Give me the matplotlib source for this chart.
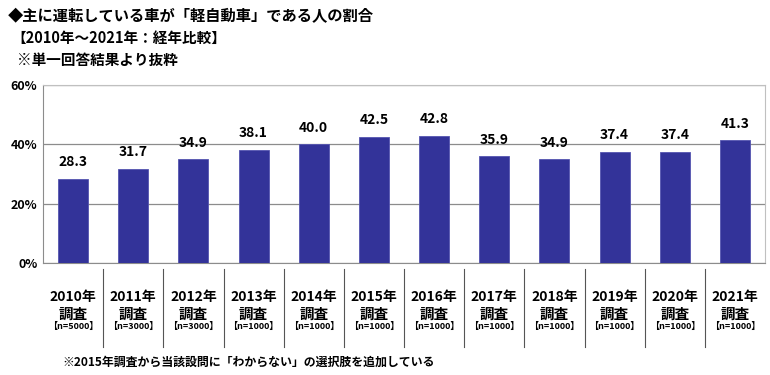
import matplotlib
matplotlib.use("Agg")
from matplotlib import pyplot as plt
import matplotlib.transforms as mtransforms

plt.rcParams['font.family'] = ['Noto Sans CJK JP', 'DejaVu Sans']

years = ["2010年", "2011年", "2012年", "2013年", "2014年", "2015年",
         "2016年", "2017年", "2018年", "2019年", "2020年", "2021年"]
samples = ["【n=5000】", "【n=3000】", "【n=3000】", "【n=1000】", "【n=1000】", "【n=1000】",
           "【n=1000】", "【n=1000】", "【n=1000】", "【n=1000】", "【n=1000】", "【n=1000】"]
values = [28.3, 31.7, 34.9, 38.1, 40.0, 42.5, 42.8, 35.9, 34.9, 37.4, 37.4, 41.3]
yticks = [0, 20, 40, 60]

W, H = 770, 375
fig = plt.figure(figsize=(7.7, 3.75), dpi=100)
ax = fig.add_axes([43 / W, 1 - 263 / H, (765 - 43) / W, (263 - 85) / H])

x = list(range(len(values)))
ax.bar(x, values, width=0.5, color="#333399", edgecolor="#5555b0", linewidth=0.6, zorder=3)
for xi, v in zip(x, values):
    ax.annotate(f"{v:.1f}", (xi, v), xytext=(0, 7), textcoords="offset points",
                ha="center", va="bottom", fontsize=10, fontweight="bold")

ax.set_xlim(-0.5, len(values) - 0.5)
ax.set_ylim(0, 60)
ax.set_yticks(yticks)
ax.set_yticklabels([f"{t}%" for t in yticks], fontsize=9, fontweight="bold")
ax.tick_params(axis="y", length=0, pad=4)
ax.set_xticks([])
ax.grid(axis="y", color="#8c8c8c", linewidth=0.9, zorder=0)

for side in ["left", "bottom"]:
    ax.spines[side].set_color("#8c8c8c")
for side in ["top", "right"]:
    ax.spines[side].set_color("#c0c0c0")

# category labels and separators below the axis
trans = mtransforms.blended_transform_factory(ax.transData, ax.transAxes)
for i in range(len(values)):
    ax.text(i, -0.19, years[i], transform=trans, ha="center", va="center",
            fontsize=10, fontweight="bold")
    ax.text(i, -0.285, "調査", transform=trans, ha="center", va="center",
            fontsize=10.5, fontweight="bold")
    ax.text(i, -0.355, samples[i], transform=trans, ha="center", va="center",
            fontsize=6.5, fontweight="bold")
for i in range(len(values) - 1):
    ax.plot([i + 0.5, i + 0.5], [-0.034, -0.47], transform=trans, color="#555555",
            linewidth=0.8, clip_on=False)

fig.text(8 / W, 1 - 16 / H, "◆主に運転している車が「軽自動車」である人の割合",
         fontsize=11, fontweight="bold", va="center", ha="left")
fig.text(11 / W, 1 - 38 / H, "【2010年～2021年：経年比較】",
         fontsize=10.5, fontweight="bold", va="center", ha="left")
fig.text(17 / W, 1 - 60 / H, "※単一回答結果より抜粋",
         fontsize=10.5, fontweight="bold", va="center", ha="left")
fig.text(62 / W, 1 - 362 / H, "※2015年調査から当該設問に「わからない」の選択肢を追加している",
         fontsize=8.6, fontweight="bold", va="center", ha="left")

fig.savefig("out.png", dpi=100)
